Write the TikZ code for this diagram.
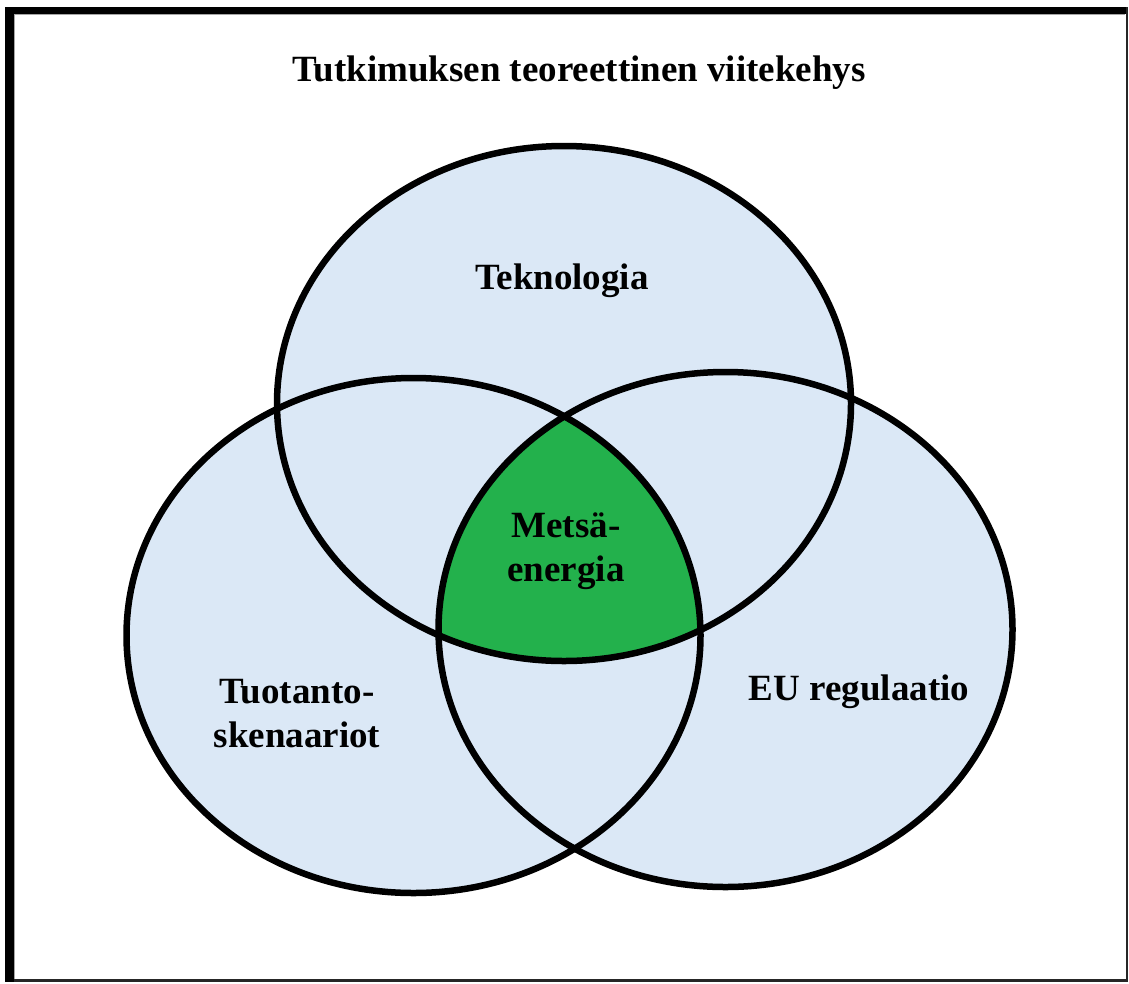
\documentclass[tikz,border=0pt]{standalone}
\usepackage{fontspec}
\setmainfont{Liberation Serif}
\definecolor{lblue}{RGB}{219,232,246}
\definecolor{mgreen}{RGB}{35,177,76}
\begin{document}
\begin{tikzpicture}[x=1pt,y=-1pt,
  lbl/.style={font=\fontsize{37}{44}\selectfont\bfseries, align=center, inner sep=0pt},
  ring/.style={draw=black, line width=6.5pt}]
\useasboundingbox (0,0) rectangle (1129,983);
% frame
\fill[white] (0,0) rectangle (1129,983);
\fill[black] (5,7) rectangle (1128,13.5);
\fill[black] (5,7) rectangle (13.5,982);
\fill[black!85] (13.5,979) rectangle (1128,982);
\fill[black!85] (1125.5,7) rectangle (1128,982);
\draw[gray!70, line width=1pt] (14,979) -- (14,14) -- (1125,14);
% ellipses
\coordinate (ct) at (564,403.5);
\coordinate (cl) at (413.5,635.5);
\coordinate (cr) at (725.5,629.5);
\fill[lblue] (ct) ellipse [x radius=287, y radius=257.5];
\fill[lblue] (cl) ellipse [x radius=287, y radius=257.5];
\fill[lblue] (cr) ellipse [x radius=287, y radius=257.5];
\begin{scope}
  \clip (ct) ellipse [x radius=287, y radius=257.5];
  \clip (cl) ellipse [x radius=287, y radius=257.5];
  \fill[mgreen] (cr) ellipse [x radius=287, y radius=257.5];
\end{scope}
\draw[ring] (ct) ellipse [x radius=287, y radius=257.5];
\draw[ring] (cl) ellipse [x radius=287, y radius=257.5];
\draw[ring] (cr) ellipse [x radius=287, y radius=257.5];
% labels
\node[lbl] (title) at (579,73) {Tutkimuksen teoreettinen viitekehys};
\node[lbl] (tek) at (562,281) {Teknologia};
\node[lbl] (met) at (566,551) {Metsä-\\energia};
\node[lbl] (tuo) at (297,714) {Tuotanto-\\skenaariot};
\node[lbl] (eu) at (859,692) {EU regulaatio};
\end{tikzpicture}
\end{document}
